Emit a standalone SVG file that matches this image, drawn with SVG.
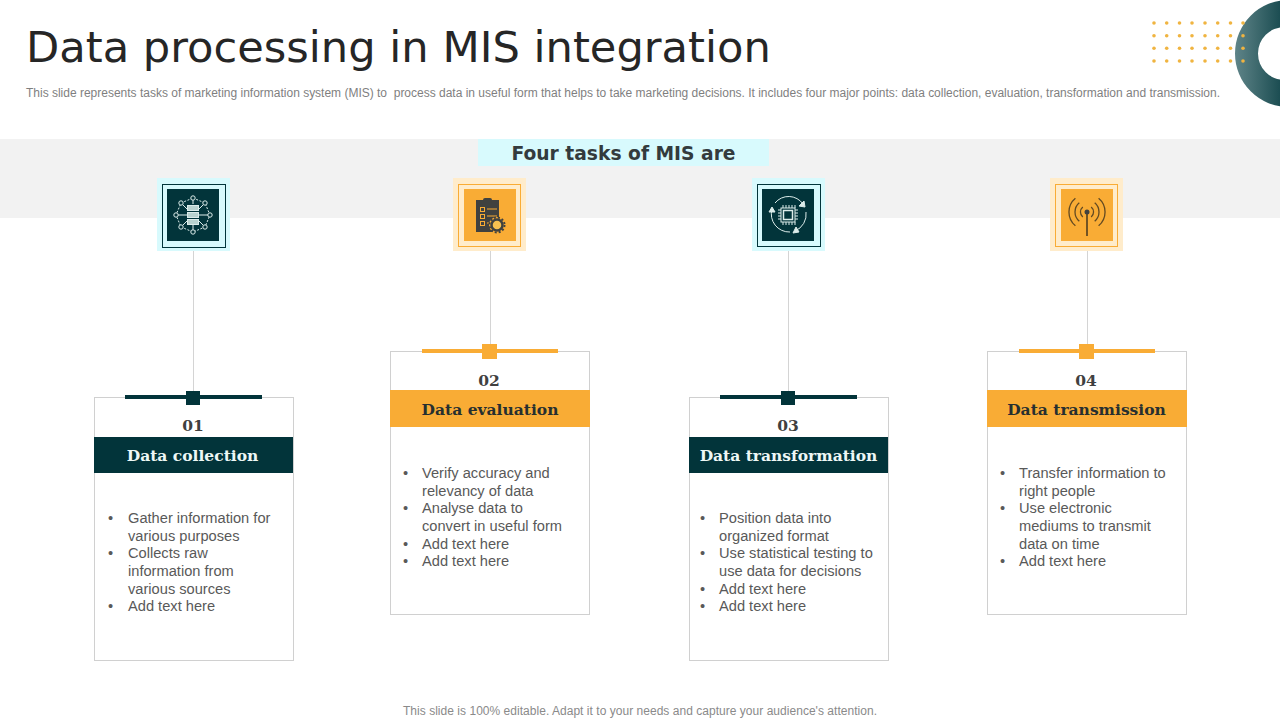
<svg xmlns="http://www.w3.org/2000/svg" width="1280" height="720" viewBox="0 0 1280 720">
<defs>
<linearGradient id="ringGrad" x1="0" x2="1" y1="0" y2="0"><stop offset="0" stop-color="#5f8488"/><stop offset="0.5" stop-color="#0f4348"/><stop offset="1" stop-color="#01292e"/></linearGradient>
</defs>
<style>
text{font-family:"Liberation Sans",Arial,sans-serif}
.title{font-family:"DejaVu Sans",sans-serif;font-size:43.2px;fill:#262626}
.sub{font-size:12px;fill:#7f7f7f;white-space:pre}
.foot{font-size:12px;fill:#8a8a8a}
.band{font-family:"DejaVu Sans",sans-serif;font-weight:700;font-size:18.7px;fill:#333b3d;text-anchor:middle}
.num{font-family:"DejaVu Serif",serif;font-weight:700;font-size:15.5px;fill:#404040;text-anchor:middle}
.head{font-family:"DejaVu Serif",serif;font-weight:700;font-size:15.5px;text-anchor:middle}
.body{font-size:14.65px;fill:#595959}
.card{fill:#fff;stroke:#d0d0d0;stroke-width:1}
.conn{stroke:#d4d4d4;stroke-width:1;fill:none}
.dk{fill:#02343a}.or{fill:#f9ac35}
.ico-l{stroke:#dcecea;stroke-width:1;fill:none}
</style>
<rect x="0" y="139" width="1280" height="79" fill="#f2f2f2"/>
<rect x="478" y="139" width="291" height="27" fill="#d8fafd"/>
<text class="band" x="623.500" y="159.500">Four tasks of MIS are</text>
<text class="title" x="26" y="62">Data processing in MIS integration</text>
<text class="sub" x="26" y="97" textLength="1194" lengthAdjust="spacing">This slide represents tasks of marketing information system (MIS) to  process data in useful form that helps to take marketing decisions. It includes four major points: data collection, evaluation, transformation and transmission.</text>
<g id="decor">
<path fill="url(#ringGrad)" fill-rule="evenodd" d="M1235 53.500A53.500 53.500 0 1 1 1342 53.500A53.500 53.500 0 1 1 1235 53.500ZM1258 53.500A26.500 26.500 0 1 0 1311 53.500A26.500 26.500 0 1 0 1258 53.500Z"/>
<g fill="#f0b440">
<circle cx="1154" cy="23" r="1.800"/><circle cx="1166.700" cy="23" r="1.800"/><circle cx="1179.500" cy="23" r="1.800"/><circle cx="1192" cy="23" r="1.800"/><circle cx="1205" cy="23" r="1.800"/><circle cx="1217.700" cy="23" r="1.800"/><circle cx="1230.500" cy="23" r="1.800"/><circle cx="1243" cy="23" r="1.800"/>
<circle cx="1154" cy="35.700" r="1.800"/><circle cx="1166.700" cy="35.700" r="1.800"/><circle cx="1179.500" cy="35.700" r="1.800"/><circle cx="1192" cy="35.700" r="1.800"/><circle cx="1205" cy="35.700" r="1.800"/><circle cx="1217.700" cy="35.700" r="1.800"/><circle cx="1230.500" cy="35.700" r="1.800"/><circle cx="1243" cy="35.700" r="1.800"/>
<circle cx="1154" cy="48.300" r="1.800"/><circle cx="1166.700" cy="48.300" r="1.800"/><circle cx="1179.500" cy="48.300" r="1.800"/><circle cx="1192" cy="48.300" r="1.800"/><circle cx="1205" cy="48.300" r="1.800"/><circle cx="1217.700" cy="48.300" r="1.800"/><circle cx="1230.500" cy="48.300" r="1.800"/><circle cx="1243" cy="48.300" r="1.800"/>
<circle cx="1154" cy="61" r="1.800"/><circle cx="1166.700" cy="61" r="1.800"/><circle cx="1179.500" cy="61" r="1.800"/><circle cx="1192" cy="61" r="1.800"/><circle cx="1205" cy="61" r="1.800"/><circle cx="1217.700" cy="61" r="1.800"/><circle cx="1230.500" cy="61" r="1.800"/><circle cx="1243" cy="61" r="1.800"/>
</g>
</g>
<g id="connectors">
<line class="conn" x1="193.500" y1="248" x2="193.500" y2="397"/>
<line class="conn" x1="490.500" y1="247" x2="490.500" y2="351"/>
<line class="conn" x1="788.500" y1="247" x2="788.500" y2="397"/>
<line class="conn" x1="1087.500" y1="247" x2="1087.500" y2="351"/>
</g>
<g id="card1">
<rect class="card" x="94.500" y="397.500" width="199" height="263"/>
<rect class="dk" x="125" y="395" width="137" height="4"/>
<rect class="dk" x="186" y="391" width="14" height="14"/>
<text class="num" x="193" y="431">01</text>
<rect class="dk" x="94" y="437" width="199" height="36"/>
<text class="head" x="192.500" y="461" fill="#eef8f6">Data collection</text>
<g class="body"><text x="108" y="523">•</text><text x="128" y="523">Gather information for</text><text x="128" y="541">various purposes</text><text x="108" y="558">•</text><text x="128" y="558">Collects raw</text><text x="128" y="576">information from</text><text x="128" y="594">various sources</text><text x="108" y="611">•</text><text x="128" y="611">Add text here</text></g>
</g>
<g id="card2">
<rect class="card" x="390.500" y="351.500" width="199" height="263"/>
<rect class="or" x="422" y="349" width="136" height="4"/>
<rect class="or" x="482" y="344" width="15" height="15"/>
<text class="num" x="489" y="386">02</text>
<rect class="or" x="390" y="390" width="200" height="37"/>
<text class="head" x="490" y="415" fill="#262f30">Data evaluation</text>
<g class="body"><text x="403" y="478">•</text><text x="422" y="478">Verify accuracy and</text><text x="422" y="496">relevancy of data</text><text x="403" y="513">•</text><text x="422" y="513">Analyse data to</text><text x="422" y="531">convert in useful form</text><text x="403" y="549">•</text><text x="422" y="549">Add text here</text><text x="403" y="566">•</text><text x="422" y="566">Add text here</text></g>
</g>
<g id="card3">
<rect class="card" x="689.500" y="397.500" width="199" height="263"/>
<rect class="dk" x="720" y="395" width="137" height="4"/>
<rect class="dk" x="781" y="391" width="14" height="14"/>
<text class="num" x="788" y="431">03</text>
<rect class="dk" x="689" y="437" width="199" height="36"/>
<text class="head" x="788.500" y="461" fill="#eef8f6">Data transformation</text>
<g class="body"><text x="700" y="523">•</text><text x="719" y="523">Position data into</text><text x="719" y="541">organized format</text><text x="700" y="558">•</text><text x="719" y="558">Use statistical testing to</text><text x="719" y="576">use data for decisions</text><text x="700" y="594">•</text><text x="719" y="594">Add text here</text><text x="700" y="611">•</text><text x="719" y="611">Add text here</text></g>
</g>
<g id="card4">
<rect class="card" x="987.500" y="351.500" width="199" height="263"/>
<rect class="or" x="1019" y="349" width="136" height="4"/>
<rect class="or" x="1079" y="344" width="15" height="15"/>
<text class="num" x="1086" y="386">04</text>
<rect class="or" x="987" y="390" width="200" height="37"/>
<text class="head" x="1086.500" y="415" fill="#262f30">Data transmission</text>
<g class="body"><text x="1000" y="478">•</text><text x="1019" y="478">Transfer information to</text><text x="1019" y="496">right people</text><text x="1000" y="513">•</text><text x="1019" y="513">Use electronic</text><text x="1019" y="531">mediums to transmit</text><text x="1019" y="549">data on time</text><text x="1000" y="566">•</text><text x="1019" y="566">Add text here</text></g>
</g>
<g id="icon1">
<rect x="157" y="178" width="73" height="73" fill="#d8fafd"/>
<rect x="162.500" y="184.500" width="63" height="63" fill="none" stroke="#02343a"/>
<rect class="dk" x="167" y="189" width="52" height="52"/>
<g class="ico-l">
<polygon stroke-dasharray="2 1.500" points="193,198 205,203 210,215 205,227 193,232 181,227 176,215 181,203"/>
<path d="M193 200V204M203.500 204.500L199 209M208 215H199M203.500 225.500L199 221M193 230V225M182.500 225.500L187 221M178 215H187M182.500 204.500L187 209"/>
<circle cx="193" cy="198" r="2.200" fill="#02343a"/><circle cx="205" cy="203" r="2.200" fill="#02343a"/><circle cx="210" cy="215" r="2.200" fill="#02343a"/><circle cx="205" cy="227" r="2.200" fill="#02343a"/><circle cx="193" cy="232" r="2.200" fill="#02343a"/><circle cx="181" cy="227" r="2.200" fill="#02343a"/><circle cx="176" cy="215" r="2.200" fill="#02343a"/><circle cx="181" cy="203" r="2.200" fill="#02343a"/>
<rect x="187.500" y="205.500" width="11" height="5" fill="#b9d2cf" stroke="#dcecea"/><rect x="187.500" y="212.500" width="11" height="5" fill="#b9d2cf"/><rect x="187.500" y="219.500" width="11" height="5" fill="#b9d2cf"/>
</g>
</g>
<g id="icon2">
<rect x="453" y="178" width="73" height="73" fill="#ffeccb"/>
<rect x="458.500" y="184.500" width="62" height="62" fill="none" stroke="#f9ac35"/>
<rect class="or" x="464" y="189" width="52" height="52"/>
<rect x="476" y="200" width="23" height="32" fill="#40413f"/>
<rect x="483" y="198" width="9" height="5" rx="2" fill="#40413f"/>
<g stroke="#f9ac35" fill="none"><rect x="480.500" y="207.500" width="4" height="4"/><rect x="480.500" y="214.500" width="4" height="4"/><rect x="480.500" y="221.500" width="4" height="4"/><line x1="487" y1="209" x2="497" y2="209"/><line x1="487" y1="216" x2="497" y2="216"/><line x1="487" y1="223" x2="489" y2="223"/></g>
<circle cx="497" cy="225" r="8" fill="#f9ac35"/>
<circle cx="497" cy="225" r="5.500" fill="#f7c050" stroke="#40413f" stroke-width="2.500"/>
<circle cx="497" cy="225" r="7.500" fill="none" stroke="#40413f" stroke-width="2" stroke-dasharray="2 2"/>
</g>
<g id="icon3">
<rect x="752" y="178" width="73" height="73" fill="#d8fafd"/>
<rect x="757.500" y="184.500" width="63" height="62" fill="none" stroke="#02343a"/>
<rect class="dk" x="762" y="189" width="52" height="52"/>
<g class="ico-l">
<path d="M775 203A17.500 17.500 0 0 1 803 204M806 212A18 18 0 0 1 795 231M790 232A18 18 0 0 1 772 209"/>
<path d="M805 207L799 206L804 201Z M793 233L796 227L799 232Z M769 212L772 207L775 212Z" fill="#dcecea"/>
<rect x="783.500" y="210.500" width="9" height="9" stroke-width="1.500"/><rect x="781" y="208" width="14" height="14" fill="none"/>
<path d="M783 205V208M786 205V208M789 205V208M792 205V208M795 205V208M783 222V225M786 222V225M789 222V225M792 222V225M795 222V225M778 210H781M778 213H781M778 216H781M778 219H781M795 210H798M795 213H798M795 216H798M795 219H798"/>
</g>
</g>
<g id="icon4">
<rect x="1050" y="178" width="73" height="73" fill="#ffeccb"/>
<rect x="1055.500" y="184.500" width="62" height="62" fill="none" stroke="#f9ac35"/>
<rect class="or" x="1061" y="189" width="52" height="52"/>
<g stroke="#634a22" fill="none" stroke-width="1.300">
<path d="M1082.800 207A6.500 6.500 0 0 0 1082.800 217M1091.200 207A6.500 6.500 0 0 1 1091.200 217M1079.300 202.800A12 12 0 0 0 1079.300 221.200M1094.700 202.800A12 12 0 0 1 1094.700 221.200M1075.400 198.200A18 18 0 0 0 1075.400 225.800M1098.600 198.200A18 18 0 0 1 1098.600 225.800"/>
<line x1="1087" y1="212" x2="1087" y2="236" stroke-width="1.800"/>
</g>
<circle cx="1087" cy="212" r="2.500" fill="#40413f"/>
</g>
<text class="foot" x="403" y="715" textLength="474" lengthAdjust="spacing">This slide is 100% editable. Adapt it to your needs and capture your audience's attention.</text>
</svg>
